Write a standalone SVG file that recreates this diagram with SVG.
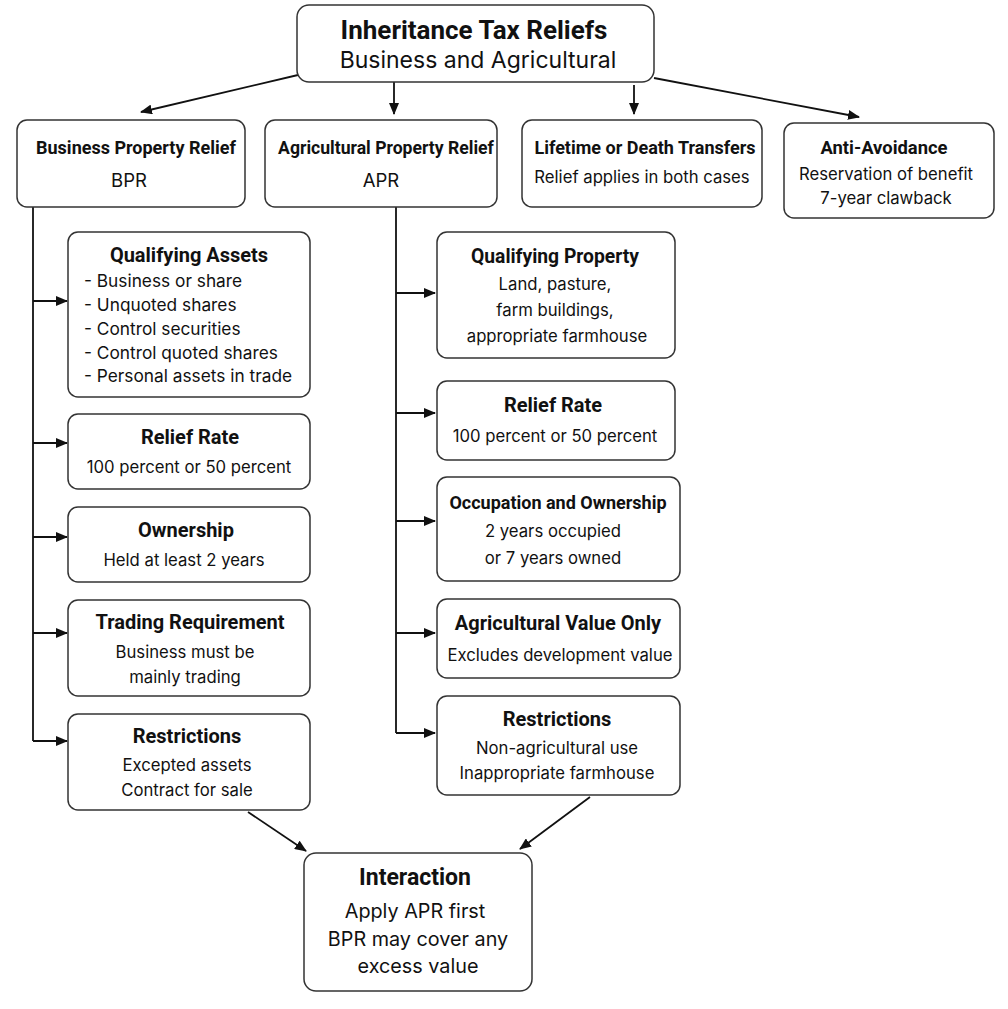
<svg xmlns="http://www.w3.org/2000/svg" width="1008" height="1009" viewBox="0 0 1008 1009">
<defs>
<marker id="ah" viewBox="0 0 12 10" refX="11" refY="5" markerWidth="12" markerHeight="10" markerUnits="userSpaceOnUse" orient="auto">
<path d="M0,0 L12,5 L0,10 z" fill="#111"/>
</marker>
<style>
.box{fill:#fff;stroke:#333;stroke-width:1.5}
.t{font-family:Roboto,"Liberation Sans",sans-serif;font-weight:bold;font-size:18px;fill:#111;text-anchor:middle}
.t2{font-family:Roboto,"Liberation Sans",sans-serif;font-weight:bold;font-size:20px;fill:#111;text-anchor:middle}
.s{font-family:Inter,"Liberation Sans",sans-serif;font-size:16.7px;fill:#111;text-anchor:middle}
.l{font-family:Inter,"Liberation Sans",sans-serif;font-size:17.3px;fill:#111}
.c{fill:none;stroke:#111;stroke-width:1.8}
</style>
</defs>
<rect width="1008" height="1009" fill="#fff"/>
<g id="connectors">
<line class="c" x1="298" y1="75" x2="141" y2="112" marker-end="url(#ah)"/>
<line class="c" x1="394" y1="82" x2="394" y2="114" marker-end="url(#ah)"/>
<line class="c" x1="634" y1="85" x2="634" y2="114" marker-end="url(#ah)"/>
<line class="c" x1="654" y1="78" x2="859" y2="117" marker-end="url(#ah)"/>
<polyline class="c" points="33,207 33,741"/>
<line class="c" x1="33" y1="301" x2="67" y2="301" marker-end="url(#ah)"/>
<line class="c" x1="33" y1="443" x2="67" y2="443" marker-end="url(#ah)"/>
<line class="c" x1="33" y1="537" x2="67" y2="537" marker-end="url(#ah)"/>
<line class="c" x1="33" y1="633" x2="67" y2="633" marker-end="url(#ah)"/>
<line class="c" x1="33" y1="741" x2="67" y2="741" marker-end="url(#ah)"/>
<polyline class="c" points="396,207 396,733"/>
<line class="c" x1="396" y1="293" x2="435" y2="293" marker-end="url(#ah)"/>
<line class="c" x1="396" y1="413" x2="435" y2="413" marker-end="url(#ah)"/>
<line class="c" x1="396" y1="521" x2="435" y2="521" marker-end="url(#ah)"/>
<line class="c" x1="396" y1="633" x2="435" y2="633" marker-end="url(#ah)"/>
<line class="c" x1="396" y1="733" x2="435" y2="733" marker-end="url(#ah)"/>
<line class="c" x1="248" y1="812" x2="306" y2="851" marker-end="url(#ah)"/>
<line class="c" x1="590" y1="797" x2="520" y2="849" marker-end="url(#ah)"/>
</g>
<g id="root">
<rect class="box" x="297" y="5" width="357" height="77" rx="12"/>
<text class="t" x="474" y="39" style="font-size:26px">Inheritance Tax Reliefs</text>
<text class="s" x="478" y="68" style="font-size:23px">Business and Agricultural</text>
</g>
<g id="bpr">
<rect class="box" x="17" y="120" width="228" height="87" rx="10"/>
<text class="t" x="136" y="154">Business Property Relief</text>
<text class="s" x="129" y="187" style="font-size:18.5px">BPR</text>
</g>
<g id="apr">
<rect class="box" x="265" y="120" width="232" height="87" rx="10"/>
<text class="t" x="386" y="154" style="font-size:17.6px">Agricultural Property Relief</text>
<text class="s" x="381" y="187" style="font-size:18.5px">APR</text>
</g>
<g id="lifetime">
<rect class="box" x="522" y="120" width="240" height="87" rx="10"/>
<text class="t" x="645" y="154">Lifetime or Death Transfers</text>
<text class="s" x="642" y="183">Relief applies in both cases</text>
</g>
<g id="antiavoid">
<rect class="box" x="784" y="123" width="210" height="95" rx="10"/>
<text class="t" x="884" y="154" style="font-size:18.4px">Anti-Avoidance</text>
<text class="s" x="886" y="180">Reservation of benefit</text>
<text class="s" x="886" y="204">7-year clawback</text>
</g>
<g id="bpr-assets">
<rect class="box" x="68" y="232" width="242" height="165" rx="10"/>
<text class="t2" x="189" y="262">Qualifying Assets</text>
<text class="l" x="84" y="287">- Business or share</text>
<text class="l" x="84" y="311">- Unquoted shares</text>
<text class="l" x="84" y="335">- Control securities</text>
<text class="l" x="84" y="359">- Control quoted shares</text>
<text class="l" x="84" y="382">- Personal assets in trade</text>
</g>
<g id="bpr-rate">
<rect class="box" x="68" y="414" width="242" height="75" rx="10"/>
<text class="t2" x="190" y="444">Relief Rate</text>
<text class="s" x="189" y="473">100 percent or 50 percent</text>
</g>
<g id="bpr-ownership">
<rect class="box" x="68" y="507" width="242" height="75" rx="10"/>
<text class="t2" x="186" y="537">Ownership</text>
<text class="s" x="184" y="566">Held at least 2 years</text>
</g>
<g id="bpr-trading">
<rect class="box" x="68" y="600" width="242" height="96" rx="10"/>
<text class="t2" x="190" y="629">Trading Requirement</text>
<text class="s" x="185" y="658">Business must be</text>
<text class="s" x="185" y="683">mainly trading</text>
</g>
<g id="bpr-restrictions">
<rect class="box" x="68" y="714" width="242" height="96" rx="10"/>
<text class="t2" x="187" y="743">Restrictions</text>
<text class="s" x="187" y="771">Excepted assets</text>
<text class="s" x="187" y="796">Contract for sale</text>
</g>
<g id="apr-property">
<rect class="box" x="437" y="232" width="238" height="126" rx="10"/>
<text class="t2" x="555" y="263" style="font-size:19.3px">Qualifying Property</text>
<text class="s" x="555" y="290">Land, pasture,</text>
<text class="s" x="555" y="316">farm buildings,</text>
<text class="s" x="557" y="342">appropriate farmhouse</text>
</g>
<g id="apr-rate">
<rect class="box" x="437" y="381" width="238" height="79" rx="10"/>
<text class="t2" x="553" y="412">Relief Rate</text>
<text class="s" x="555" y="442">100 percent or 50 percent</text>
</g>
<g id="apr-occupation">
<rect class="box" x="437" y="477" width="243" height="104" rx="10"/>
<text class="t" x="558" y="509">Occupation and Ownership</text>
<text class="s" x="553" y="537">2 years occupied</text>
<text class="s" x="553" y="564">or 7 years owned</text>
</g>
<g id="apr-value">
<rect class="box" x="437" y="599" width="243" height="79" rx="10"/>
<text class="t2" x="558" y="630">Agricultural Value Only</text>
<text class="s" x="560" y="661">Excludes development value</text>
</g>
<g id="apr-restrictions">
<rect class="box" x="437" y="696" width="243" height="99" rx="10"/>
<text class="t2" x="557" y="726">Restrictions</text>
<text class="s" x="557" y="754">Non-agricultural use</text>
<text class="s" x="557" y="779">Inappropriate farmhouse</text>
</g>
<g id="interaction">
<rect class="box" x="304" y="853" width="228" height="138" rx="12"/>
<text class="t" x="415" y="885" style="font-size:23px">Interaction</text>
<text class="s" x="415" y="918" style="font-size:19.8px">Apply APR first</text>
<text class="s" x="418" y="946" style="font-size:19.8px">BPR may cover any</text>
<text class="s" x="418" y="973" style="font-size:19.8px">excess value</text>
</g>
</svg>
